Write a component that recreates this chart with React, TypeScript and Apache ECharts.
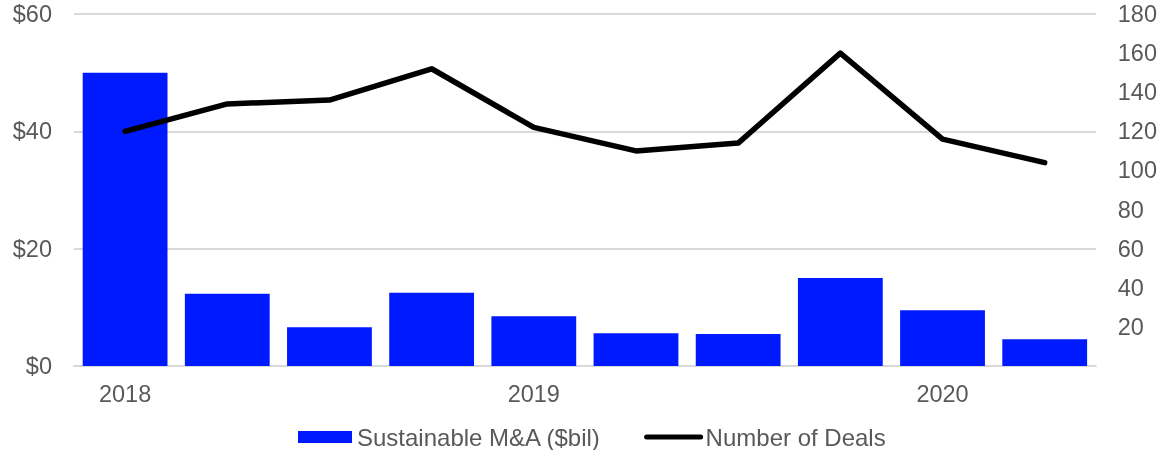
import React, { useEffect, useRef } from "react";
import * as echarts from "echarts";

const quarters = ["2018 Q1", "2018 Q2", "2018 Q3", "2018 Q4", "2019 Q1", "2019 Q2", "2019 Q3", "2019 Q4", "2020 Q1", "2020 Q2"];
const maValues = [50, 12.3, 6.6, 12.5, 8.5, 5.6, 5.45, 15, 9.5, 4.55];
const dealCounts = [120, 134, 136, 152, 122, 110, 114, 160, 116, 104];
const leftTicks = [0, 20, 40, 60];
const rightTicks = [0, 20, 40, 60, 80, 100, 120, 140, 160, 180];

const FONT = "'Liberation Sans', Arial, sans-serif";
const GREY = "#595959";

export default function App() {
  const ref = useRef<HTMLDivElement>(null);
  useEffect(() => {
    if (!ref.current) return;
    const chart = echarts.init(ref.current, null, { renderer: "svg" });
    chart.setOption({
      animation: false,
      textStyle: { fontFamily: FONT },
      grid: { left: 74, right: 63, top: 14, bottom: 84 },
      legend: {
        left: 298,
        top: 425,
        padding: 0,
        itemWidth: 54,
        itemHeight: 12,
        itemGap: 43,
        textStyle: { fontSize: 24, color: GREY, fontFamily: FONT },
        data: [
          { name: "Sustainable M&A ($bil)", icon: "rect" },
          {
            name: "Number of Deals",
            itemStyle: { opacity: 0 },
            lineStyle: { width: 5, color: "#000000", cap: "round" },
          },
        ],
      },
      xAxis: {
        type: "category",
        data: quarters,
        axisLine: { show: true, lineStyle: { color: "#d9d9d9", width: 2 } },
        axisTick: { show: false },
        axisLabel: {
          interval: 0,
          margin: 16,
          fontSize: 23.5,
          color: GREY,
          fontFamily: FONT,
          formatter: (v: string) => (v.endsWith("Q1") ? v.slice(0, 4) : ""),
        },
      },
      yAxis: [
        {
          type: "value",
          min: leftTicks[0],
          max: leftTicks[leftTicks.length - 1],
          interval: 20,
          axisLine: { show: false },
          axisTick: { show: false },
          splitLine: { lineStyle: { color: "#d9d9d9", width: 2 } },
          axisLabel: {
            margin: 22,
            fontSize: 23.5,
            color: GREY,
            fontFamily: FONT,
            formatter: (v: number) => "$" + v,
          },
        },
        {
          type: "value",
          min: rightTicks[0],
          max: rightTicks[rightTicks.length - 1],
          interval: 20,
          axisLine: { show: false },
          axisTick: { show: false },
          splitLine: { show: false },
          axisLabel: {
            margin: 22,
            fontSize: 23.5,
            color: GREY,
            fontFamily: FONT,
            formatter: (v: number) => (v === 0 ? "" : String(v)),
          },
        },
      ],
      series: [
        {
          name: "Sustainable M&A ($bil)",
          type: "bar",
          data: maValues,
          yAxisIndex: 0,
          barCategoryGap: "17%",
          itemStyle: { color: "#001AFF" },
        },
        {
          name: "Number of Deals",
          type: "line",
          data: dealCounts,
          yAxisIndex: 1,
          symbol: "none",
          lineStyle: { color: "#000000", width: 5.5, cap: "round", join: "round" },
          itemStyle: { color: "#000000" },
        },
      ],
    });
    return () => chart.dispose();
  }, []);
  return <div ref={ref} style={{ position: "fixed", left: 0, top: 0, width: 1160, height: 450 }} />;
}
